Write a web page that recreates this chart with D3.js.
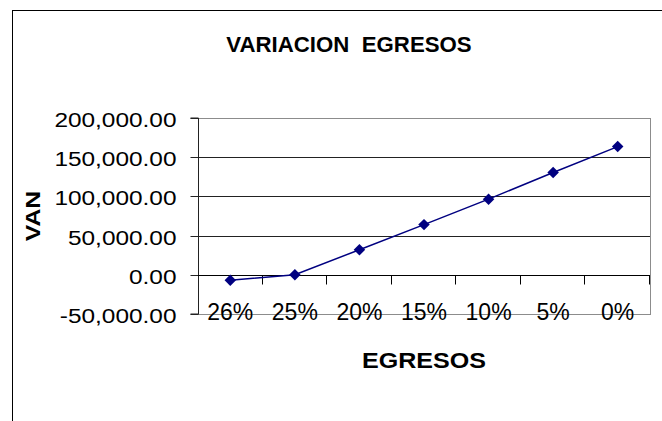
<!DOCTYPE html>
<html>
<head>
<meta charset="utf-8">
<script src="https://cdn.jsdelivr.net/npm/d3@7/dist/d3.min.js"></script>
<style>
  body { margin: 0; background: #fff; }
  text { font-family: "Liberation Sans", Arial, sans-serif; white-space: pre; }
</style>
</head>
<body>
<svg width="662" height="421"></svg>
<script>
const categories = ['26%', '25%', '20%', '15%', '10%', '5%', '0%'];
const vanValues = [-7000, 0, 32000, 64000, 96500, 130500, 163500];
const yTicks = [-50000, 0, 50000, 100000, 150000, 200000];
const gridTicks = [50000, 100000, 150000];

const svg = d3.select('svg');
const plot = { left: 198, right: 650, top: 118, bottom: 314 };

// widen text a bit, the original export looks horizontally stretched
const stretch = (sel, k) => sel.each(function () {
    const w = this.getComputedTextLength();
    d3.select(this).attr('textLength', w * k).attr('lengthAdjust', 'spacingAndGlyphs');
});
const crisp = v => Math.round(v) + 0.5;
const fmt = d3.format(',.2f');

svg.append('rect')
    .attr('width', 662).attr('height', 421).attr('fill', '#fff');

// chart area frame (runs off the right and bottom edges)
svg.append('rect')
    .attr('x', 12.5).attr('y', 10.5)
    .attr('width', 700).attr('height', 500)
    .attr('fill', 'none').attr('stroke', '#000');

const x = d3.scaleBand()
    .domain(categories)
    .range([plot.left, plot.right]);

const y = d3.scaleLinear()
    .domain([-50000, 200000])
    .range([plot.bottom, plot.top]);

// gridlines
svg.append('g')
    .selectAll('line')
    .data(gridTicks)
    .enter().append('line')
    .attr('x1', plot.left).attr('x2', plot.right)
    .attr('y1', d => crisp(y(d))).attr('y2', d => crisp(y(d)))
    .attr('stroke', '#222').attr('stroke-width', 1);

// plot border
svg.append('rect')
    .attr('x', plot.left + 0.5).attr('y', crisp(y(200000)))
    .attr('width', plot.right - plot.left)
    .attr('height', Math.round(y(-50000)) - Math.round(y(200000)))
    .attr('fill', 'none').attr('stroke', '#8c8c8c');

// y axis
const yAxis = svg.append('g')
    .attr('transform', `translate(${plot.left + 0.5},0)`)
    .call(d3.axisLeft(y)
        .tickValues(yTicks)
        .tickSize(8)
        .tickPadding(14)
        .tickFormat(d => fmt(d).replace('\u2212', '-'))
        .offset(0));
yAxis.select('.domain').attr('stroke', '#222');
yAxis.selectAll('.tick line').attr('stroke', '#222');
yAxis.selectAll('.tick').attr('transform', d => `translate(0,${crisp(y(d))})`);
yAxis.selectAll('.tick text')
    .attr('font-size', 20)
    .attr('font-family', '"Liberation Sans", Arial, sans-serif')
    .attr('fill', '#000')
    .attr('dy', '0.42em')
    .call(stretch, 1.22);

// zero line with category ticks hanging below it
const y0 = crisp(y(0));
svg.append('line')
    .attr('x1', plot.left).attr('x2', plot.right)
    .attr('y1', y0).attr('y2', y0)
    .attr('stroke', '#000');

svg.append('g')
    .selectAll('line')
    .data(categories)
    .enter().append('line')
    .attr('x1', d => crisp(x(d) + x.bandwidth()) - 1)
    .attr('x2', d => crisp(x(d) + x.bandwidth()) - 1)
    .attr('y1', y0).attr('y2', y0 + 9)
    .attr('stroke', '#000');

// category labels sit low, on the bottom border
svg.append('g')
    .selectAll('text')
    .data(categories)
    .enter().append('text')
    .attr('x', d => x(d) + x.bandwidth() / 2)
    .attr('y', 320)
    .attr('text-anchor', 'middle')
    .attr('font-size', 23)
    .text(d => d);

// series
const series = categories.map((c, i) => ({ cat: c, val: vanValues[i] }));
const line = d3.line()
    .x(d => x(d.cat) + x.bandwidth() / 2)
    .y(d => y(d.val));

svg.append('path')
    .datum(series)
    .attr('d', line)
    .attr('fill', 'none')
    .attr('stroke', '#000080')
    .attr('stroke-width', 1.5);

svg.append('g')
    .selectAll('path')
    .data(series)
    .enter().append('path')
    .attr('d', d3.symbol(d3.symbolSquare, 66))
    .attr('transform', d => `translate(${x(d.cat) + x.bandwidth() / 2},${y(d.val)}) rotate(45)`)
    .attr('fill', '#000080');

// titles
svg.append('text')
    .attr('x', 349).attr('y', 52)
    .attr('text-anchor', 'middle')
    .attr('font-size', 22).attr('font-weight', 'bold')
    .text('VARIACION  EGRESOS')
    .call(stretch, 1.01);

svg.append('text')
    .attr('x', (plot.left + plot.right) / 2).attr('y', 368)
    .attr('text-anchor', 'middle')
    .attr('font-size', 22).attr('font-weight', 'bold')
    .text('EGRESOS')
    .call(stretch, 1.14);

svg.append('text')
    .attr('transform', `translate(40,${(plot.top + plot.bottom) / 2}) rotate(-90)`)
    .attr('text-anchor', 'middle')
    .attr('font-size', 21).attr('font-weight', 'bold')
    .text('VAN')
    .call(stretch, 1.18);
</script>
</body>
</html>
